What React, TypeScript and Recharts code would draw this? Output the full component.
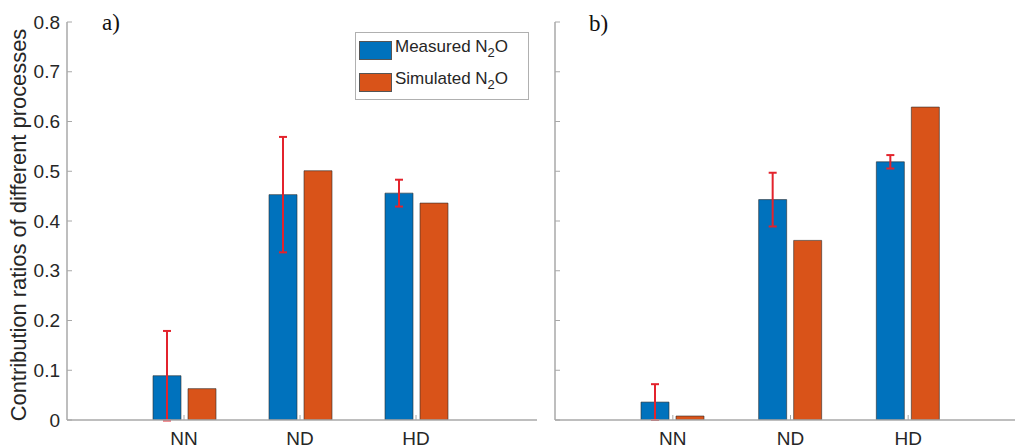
import React from "react";
import { BarChart, Bar, XAxis, YAxis, ErrorBar } from "recharts";

const categories = ["NN", "ND", "HD"];

// panel a)
const measuredA = [0.089, 0.453, 0.456];
const simulatedA = [0.063, 0.501, 0.436];
const errorA = [0.09, 0.116, 0.027];

// panel b)
const measuredB = [0.036, 0.443, 0.519];
const simulatedB = [0.008, 0.361, 0.629];
const errorB = [0.036, 0.054, 0.0135];

const yTicks = [0, 0.1, 0.2, 0.3, 0.4, 0.5, 0.6, 0.7, 0.8];

const BLUE = "#0072BD";
const ORANGE = "#D95319";
const AXIS = "#a8a8a8";
const TEXT = "#262626";
const FONT = "'Liberation Sans', Arial, Helvetica, sans-serif";

const buildRows = (m: number[], s: number[], e: number[]) =>
  categories.map((name, i) => ({ name, measured: m[i], simulated: s[i], err: e[i] }));

const rowsA = buildRows(measuredA, simulatedA, errorA);
const rowsB = buildRows(measuredB, simulatedB, errorB);

const fmt = (v: number) => (v === 0 ? "0" : v.toFixed(1));

const YTick = ({ x, y, payload, showLabel }: any) => (
  <g>
    <line x1={x} x2={x + 5} y1={y} y2={y} stroke={AXIS} strokeWidth={1} />
    {showLabel && (
      <text x={x - 7} y={y} dy="0.35em" textAnchor="end" fontSize={19} fontFamily={FONT} fill={TEXT}>
        {fmt(payload.value)}
      </text>
    )}
  </g>
);

const XTick = ({ x, y, payload }: any) => (
  <g>
    <line x1={x} x2={x} y1={y} y2={y - 5} stroke={AXIS} strokeWidth={1} />
    <text x={x} y={y + 25} textAnchor="middle" fontSize={19} fontFamily={FONT} fill={TEXT}>
      {payload.value}
    </text>
  </g>
);

const LegendBox = () => (
  <div
    style={{
      position: "absolute",
      left: 355,
      top: 32,
      border: "1px solid #b0b0b0",
      background: "#fff",
      width: 174,
      height: 68,
      boxSizing: "border-box",
      fontFamily: FONT,
      fontSize: 17,
      color: TEXT,
      padding: "7px 0 0 3px",
    }}
  >
    {[
      { c: BLUE, t: "Measured N" },
      { c: ORANGE, t: "Simulated N" },
    ].map((it, i) => (
      <div key={i} style={{ display: "flex", alignItems: "center", height: 20, marginBottom: i === 0 ? 12 : 0 }}>
        <span style={{ display: "inline-block", width: 33, height: 19, background: it.c, border: "1px solid #555", boxSizing: "border-box", marginRight: 3 }} />
        <span style={{ whiteSpace: "nowrap", lineHeight: "20px" }}>
          {it.t}
          <sub style={{ fontSize: 13, verticalAlign: -5 }}>2</sub>O
        </span>
      </div>
    ))}
  </div>
);

const YLabel = () => (
  <text
    transform="translate(18,225) rotate(-90)"
    textAnchor="middle"
    dominantBaseline="central"
    fontSize={21.9}
    fontFamily={FONT}
    fill={TEXT}
  >
    Contribution ratios of different processes
  </text>
);

interface PanelProps {
  rows: Array<{ name: string; measured: number; simulated: number; err: number }>;
  width: number;
  yWidth: number;
  padL: number;
  padR: number;
  showLabels: boolean;
}

function Panel({ rows, width, yWidth, padL, padR, showLabels }: PanelProps) {
  return (
    <BarChart
      width={width}
      height={448}
      data={rows}
      margin={{ top: 22, right: 8, left: 0, bottom: 0 }}
      barSize={28}
      barGap={7}
    >
      <XAxis
        dataKey="name"
        height={28}
        padding={{ left: padL, right: padR }}
        axisLine={{ stroke: AXIS, strokeWidth: 1.5 }}
        tickLine={false}
        tickSize={0}
        tickMargin={0}
        tick={<XTick />}
        interval={0}
      />
      <YAxis
        width={yWidth}
        domain={[0, 0.8]}
        ticks={yTicks}
        allowDataOverflow
        axisLine={{ stroke: AXIS, strokeWidth: 1.5 }}
        tickLine={false}
        tickSize={0}
        tickMargin={0}
        tick={<YTick showLabel={showLabels} />}
        label={showLabels ? { content: () => <YLabel /> } : undefined}
      />
      <Bar dataKey="measured" fill={BLUE} stroke="#2b2b2b" strokeWidth={0.6} isAnimationActive={false}>
        <ErrorBar dataKey="err" width={4} stroke="#e3232c" strokeWidth={2} direction="y" />
      </Bar>
      <Bar dataKey="simulated" fill={ORANGE} stroke="#2b2b2b" strokeWidth={0.6} isAnimationActive={false} />
    </BarChart>
  );
}

const tag: React.CSSProperties = {
  position: "absolute",
  fontFamily: "'Liberation Serif', 'Times New Roman', serif",
  fontSize: 23,
  color: "#111",
  lineHeight: 1,
};

export default function App() {
  return (
    <div style={{ position: "absolute", left: 0, top: 0, width: 1015, height: 448, overflow: "hidden", background: "#fff" }}>
      <div style={{ position: "absolute", left: 0, top: 0 }}>
        <Panel rows={rowsA} width={545} yWidth={67} padL={59} padR={63} showLabels />
      </div>
      <div style={{ position: "absolute", left: 547, top: 0 }}>
        <Panel rows={rowsB} width={488} yWidth={8} padL={59} padR={60} showLabels={false} />
      </div>
      <LegendBox />
      <div style={{ ...tag, left: 102, top: 11 }}>a)</div>
      <div style={{ ...tag, left: 589, top: 12 }}>b)</div>
    </div>
  );
}
